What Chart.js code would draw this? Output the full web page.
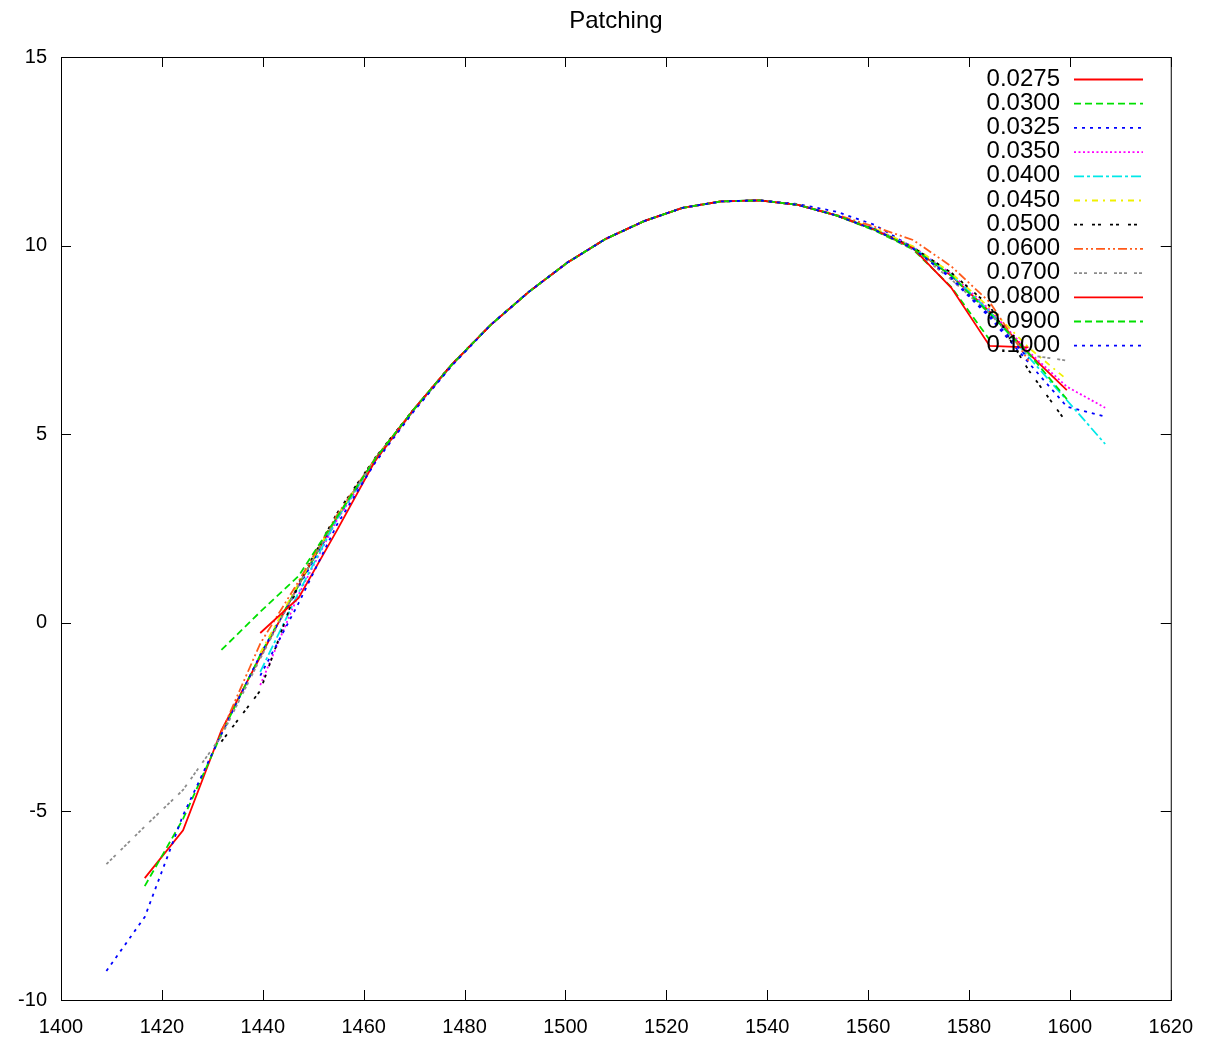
<!DOCTYPE html>
<html>
<head>
<meta charset="utf-8">
<title>Patching</title>
<script src="https://cdn.jsdelivr.net/npm/chart.js@4/dist/chart.umd.min.js"></script>
<style>
  html, body { margin: 0; padding: 0; background: #fff; }
  canvas { display: block; }
</style>
</head>
<body>
<canvas id="patchChart" width="1208" height="1040"></canvas>
<script>
// sample positions shared by all curves
const xs = [1409.0, 1416.6, 1424.2, 1431.8, 1439.5, 1447.1, 1454.7, 1462.3, 1469.9, 1477.5, 1485.2, 1492.8, 1500.4, 1508.0,
  1515.6, 1523.2, 1530.8, 1538.5, 1546.1, 1553.7, 1561.3, 1568.9, 1576.5, 1584.1, 1591.8, 1599.4, 1607.0];

// one array per patch width, null = not sampled there
const s0275 = [null, -6.77, -5.5, -2.85, -0.9, 1.0, 2.8, 4.35, 5.65, 6.85, 7.9, 8.78, 9.55, 10.18, 10.65, 11.0, 11.17, 11.2, 11.08, 10.8, 10.42, 9.93, 9.2, 8.25, 7.15, 6.17, null];
const s0300 = [null, -6.98, -5.2, -2.95, -0.85, 1.0, 2.8, 4.35, 5.65, 6.85, 7.9, 8.78, 9.55, 10.18, 10.65, 11.0, 11.17, 11.2, 11.08, 10.8, 10.4, 9.9, 8.9, 7.5, null, null, null];
const s0325 = [-9.23, -7.8, -5.1, -2.95, -0.85, 0.95, 2.75, 4.3, 5.62, 6.83, 7.9, 8.78, 9.55, 10.18, 10.65, 11.0, 11.17, 11.2, 11.1, 10.9, 10.55, 9.95, 9.12, 8.1, 6.9, 5.73, 5.47];
const s0350 = [null, null, null, null, -1.65, 0.75, 2.72, 4.3, 5.63, 6.83, 7.9, 8.78, 9.55, 10.18, 10.65, 11.0, 11.17, 11.2, 11.08, 10.8, 10.45, 9.97, 9.25, 8.3, 7.19, 6.26, 5.7];
const s0400 = [null, null, null, null, -1.3, 0.8, 2.75, 4.32, 5.64, 6.84, 7.9, 8.78, 9.55, 10.18, 10.65, 11.0, 11.17, 11.2, 11.08, 10.8, 10.44, 9.95, 9.22, 8.25, 7.05, 5.9, 4.74];
const s0450 = [null, null, null, null, -0.8, 1.05, 2.82, 4.35, 5.65, 6.85, 7.9, 8.78, 9.55, 10.18, 10.65, 11.0, 11.17, 11.2, 11.08, 10.8, 10.45, 9.98, 9.27, 8.35, 7.3, 6.45, null];
const s0500 = [null, null, null, -3.15, -1.8, 1.05, 2.9, 4.38, 5.66, 6.86, 7.9, 8.78, 9.55, 10.18, 10.65, 11.0, 11.17, 11.2, 11.08, 10.8, 10.43, 9.95, 9.28, 8.4, 6.7, 5.3, null];
const s0600 = [null, null, null, -2.9, -0.55, 1.1, 2.85, 4.36, 5.65, 6.85, 7.9, 8.78, 9.55, 10.18, 10.65, 11.0, 11.17, 11.2, 11.08, 10.82, 10.5, 10.15, 9.45, 8.5, 6.95, null, null];
const s0700 = [-6.4, -5.4, -4.43, -3.0, -0.95, 1.0, 2.8, 4.35, 5.65, 6.85, 7.9, 8.78, 9.55, 10.18, 10.65, 11.0, 11.17, 11.2, 11.08, 10.8, 10.42, 9.9, 9.1, 8.2, 7.1, 6.95, null];
const s0800 = [null, null, null, null, -0.27, 0.66, 2.45, 4.3, 5.65, 6.85, 7.9, 8.78, 9.55, 10.18, 10.65, 11.0, 11.17, 11.2, 11.08, 10.8, 10.42, 9.93, 8.88, 7.34, 7.3, null, null];
const s0900 = [null, null, null, -0.72, 0.29, 1.24, 2.8, 4.35, 5.65, 6.85, 7.9, 8.78, 9.55, 10.18, 10.65, 11.0, 11.17, 11.2, 11.08, 10.8, 10.42, 9.93, 9.2, 8.2, 7.15, 5.93, null];
const s1000 = [null, null, null, null, -1.4, 0.52, 2.6, 4.25, 5.6, 6.82, 7.9, 8.78, 9.55, 10.18, 10.65, 11.0, 11.17, 11.2, 11.08, 10.8, 10.42, 9.92, 9.15, 8.15, 7.0, null, null];

const labels = ['0.0275', '0.0300', '0.0325', '0.0350', '0.0400', '0.0450', '0.0500', '0.0600', '0.0700', '0.0800', '0.0900', '0.1000'];
const series = [s0275, s0300, s0325, s0350, s0400, s0450, s0500, s0600, s0700, s0800, s0900, s1000];

const xTicks = [1400, 1420, 1440, 1460, 1480, 1500, 1520, 1540, 1560, 1580, 1600, 1620];
const yTicks = [-10, -5, 0, 5, 10, 15];

// gnuplot-ish line types
const colors = ['#ff0000', '#00e000', '#0000ff', '#ff00ff', '#00e8e8', '#f0f000', '#000000', '#ff5a1a', '#8c8c8c', '#ff0000', '#00e000', '#0000ff'];
const dashes = [[], [7, 4], [3, 5], [2, 2.5], [10, 3, 3, 3], [6, 5, 2, 5], [3, 3, 3, 9], [9, 3, 2, 3, 2, 3], [3, 2, 3, 2, 3, 7], [], [7, 4], [3, 5]];

const FONT = '"Liberation Sans", Arial, Helvetica, sans-serif';

const datasets = series.map((arr, i) => ({
  label: labels[i],
  data: xs.map((x, j) => ({ x: x, y: arr[j] })).filter(p => p.y !== null),
  borderColor: colors[i],
  borderDash: dashes[i],
  borderWidth: 1.8,
  pointRadius: 0,
  tension: 0,
  fill: false,
  order: series.length - i   // later curves sit on top, like gnuplot
}));

const frame = {
  id: 'frame',
  afterDraw(chart) {
    const { ctx, chartArea: a, scales: { x, y } } = chart;
    ctx.save();
    ctx.strokeStyle = '#000';
    ctx.lineWidth = 1;
    ctx.setLineDash([]);
    ctx.strokeRect(a.left + 0.5, a.top + 0.5, a.right - a.left, a.bottom - a.top);

    // inward ticks on all sides
    ctx.beginPath();
    xTicks.forEach(v => {
      const px = Math.round(x.getPixelForValue(v)) + 0.5;
      ctx.moveTo(px, a.bottom + 0.5); ctx.lineTo(px, a.bottom - 10);
      ctx.moveTo(px, a.top + 0.5); ctx.lineTo(px, a.top + 10);
    });
    yTicks.forEach(v => {
      const py = Math.round(y.getPixelForValue(v)) + 0.5;
      ctx.moveTo(a.left + 0.5, py); ctx.lineTo(a.left + 10, py);
      ctx.moveTo(a.right + 0.5, py); ctx.lineTo(a.right - 10, py);
    });
    ctx.stroke();

    // title
    ctx.fillStyle = '#000';
    ctx.font = '24px ' + FONT;
    ctx.textAlign = 'center';
    ctx.textBaseline = 'middle';
    ctx.fillText('Patching', (a.left + a.right) / 2, 21);

    // key, top right, text first then sample
    ctx.font = '24px ' + FONT;
    ctx.textAlign = 'right';
    chart.data.datasets.forEach((ds, i) => {
      const ry = 79 + i * 24.2;
      ctx.fillStyle = '#000';
      ctx.fillText(ds.label, 1060, ry);
      ctx.strokeStyle = ds.borderColor;
      ctx.lineWidth = 1.8;
      ctx.setLineDash(ds.borderDash);
      ctx.beginPath();
      ctx.moveTo(1074, ry + 0.5);
      ctx.lineTo(1143, ry + 0.5);
      ctx.stroke();
    });
    ctx.restore();
  }
};

new Chart(document.getElementById('patchChart'), {
  type: 'line',
  data: { datasets: datasets },
  options: {
    responsive: false,
    devicePixelRatio: 1,
    animation: false,
    layout: { padding: { top: 57, right: 35, left: 0, bottom: 0 } },
    plugins: { legend: { display: false }, title: { display: false }, tooltip: { enabled: false } },
    scales: {
      x: {
        type: 'linear',
        min: 1400, max: 1620,
        afterBuildTicks: s => { s.ticks = xTicks.map(v => ({ value: v })); },
        afterFit: s => { s.height = 40; },
        grid: { display: false, drawTicks: false },
        border: { display: false },
        ticks: { color: '#000', font: { family: FONT, size: 20 }, padding: 15, maxRotation: 0, callback: v => String(v) }
      },
      y: {
        type: 'linear',
        min: -10, max: 15,
        afterBuildTicks: s => { s.ticks = yTicks.map(v => ({ value: v })); },
        afterFit: s => { s.width = 61; },
        grid: { display: false, drawTicks: false },
        border: { display: false },
        ticks: { color: '#000', font: { family: FONT, size: 20 }, padding: 14, callback: v => String(v) }
      }
    }
  },
  plugins: [frame]
});
</script>
</body>
</html>
